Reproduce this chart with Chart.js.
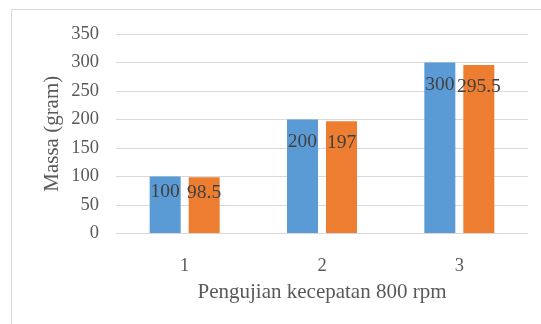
<!DOCTYPE html>
<html>
<head>
<meta charset="utf-8">
<script src="https://cdn.jsdelivr.net/npm/chart.js@4/dist/chart.umd.min.js"></script>
<style>
  body { margin: 0; background: #fff; overflow: hidden; }
  #wrap { position: relative; width: 541px; height: 324px; }
  #frame { position: absolute; left: 11px; top: 9px; width: 600px; height: 400px; border: 1px solid #d9d9d9; }
  canvas { position: absolute; left: 0; top: 0; }
</style>
</head>
<body>
<div id="wrap">
  <div id="frame"></div>
  <canvas id="chart" width="541" height="324"></canvas>
</div>
<script>
const categories = ['1', '2', '3'];
const seriesA = [100, 200, 300];
const seriesB = [98.5, 197, 295.5];
const yTicks = { min: 0, max: 350, step: 50 };

const textColor = '#595959';
const fontFamily = '"Liberation Serif", "Times New Roman", serif';

// value labels drawn just inside the bar top
const barLabels = {
  id: 'barLabels',
  afterDatasetsDraw(chart) {
    const ctx = chart.ctx;
    ctx.save();
    ctx.font = '19.5px ' + fontFamily;
    ctx.fillStyle = '#404040';
    ctx.textAlign = 'center';
    ctx.textBaseline = 'middle';
    chart.data.datasets.forEach((ds, i) => {
      chart.getDatasetMeta(i).data.forEach((bar, j) => {
        const h = bar.base - bar.y;
        const off = Math.min(22, h * 0.27);
        ctx.fillText(String(ds.data[j]), bar.x, bar.y + off);
      });
    });
    ctx.restore();
  }
};

new Chart(document.getElementById('chart'), {
  type: 'bar',
  data: {
    labels: categories,
    datasets: [
      { data: seriesA, backgroundColor: '#5B9BD5', categoryPercentage: 0.568, barPercentage: 0.795 },
      { data: seriesB, backgroundColor: '#ED7D31', categoryPercentage: 0.568, barPercentage: 0.795 }
    ]
  },
  options: {
    responsive: false,
    animation: false,
    layout: { padding: { top: 34, right: 13, bottom: 0, left: 0 } },
    plugins: { legend: { display: false }, tooltip: { enabled: false } },
    scales: {
      x: {
        grid: { display: false },
        border: { display: false },
        ticks: { color: textColor, font: { family: fontFamily, size: 18.5 }, padding: 14 },
        title: {
          display: true,
          text: 'Pengujian kecepatan 800 rpm',
          color: textColor,
          font: { family: fontFamily, size: 21 },
          padding: { top: 0, bottom: 19 }
        },
        afterFit(scale) { scale.height = 90.5; }
      },
      y: {
        min: yTicks.min,
        max: yTicks.max,
        grid: { color: '#d9d9d9', drawTicks: false },
        border: { display: false },
        ticks: { stepSize: yTicks.step, color: textColor, font: { family: fontFamily, size: 18.5 }, padding: 17 },
        title: {
          display: true,
          text: 'Massa (gram)',
          color: textColor,
          font: { family: fontFamily, size: 21 },
          padding: { top: 40, bottom: 0 }
        },
        afterFit(scale) { scale.width = 116; }
      }
    }
  },
  plugins: [barLabels]
});
</script>
</body>
</html>
